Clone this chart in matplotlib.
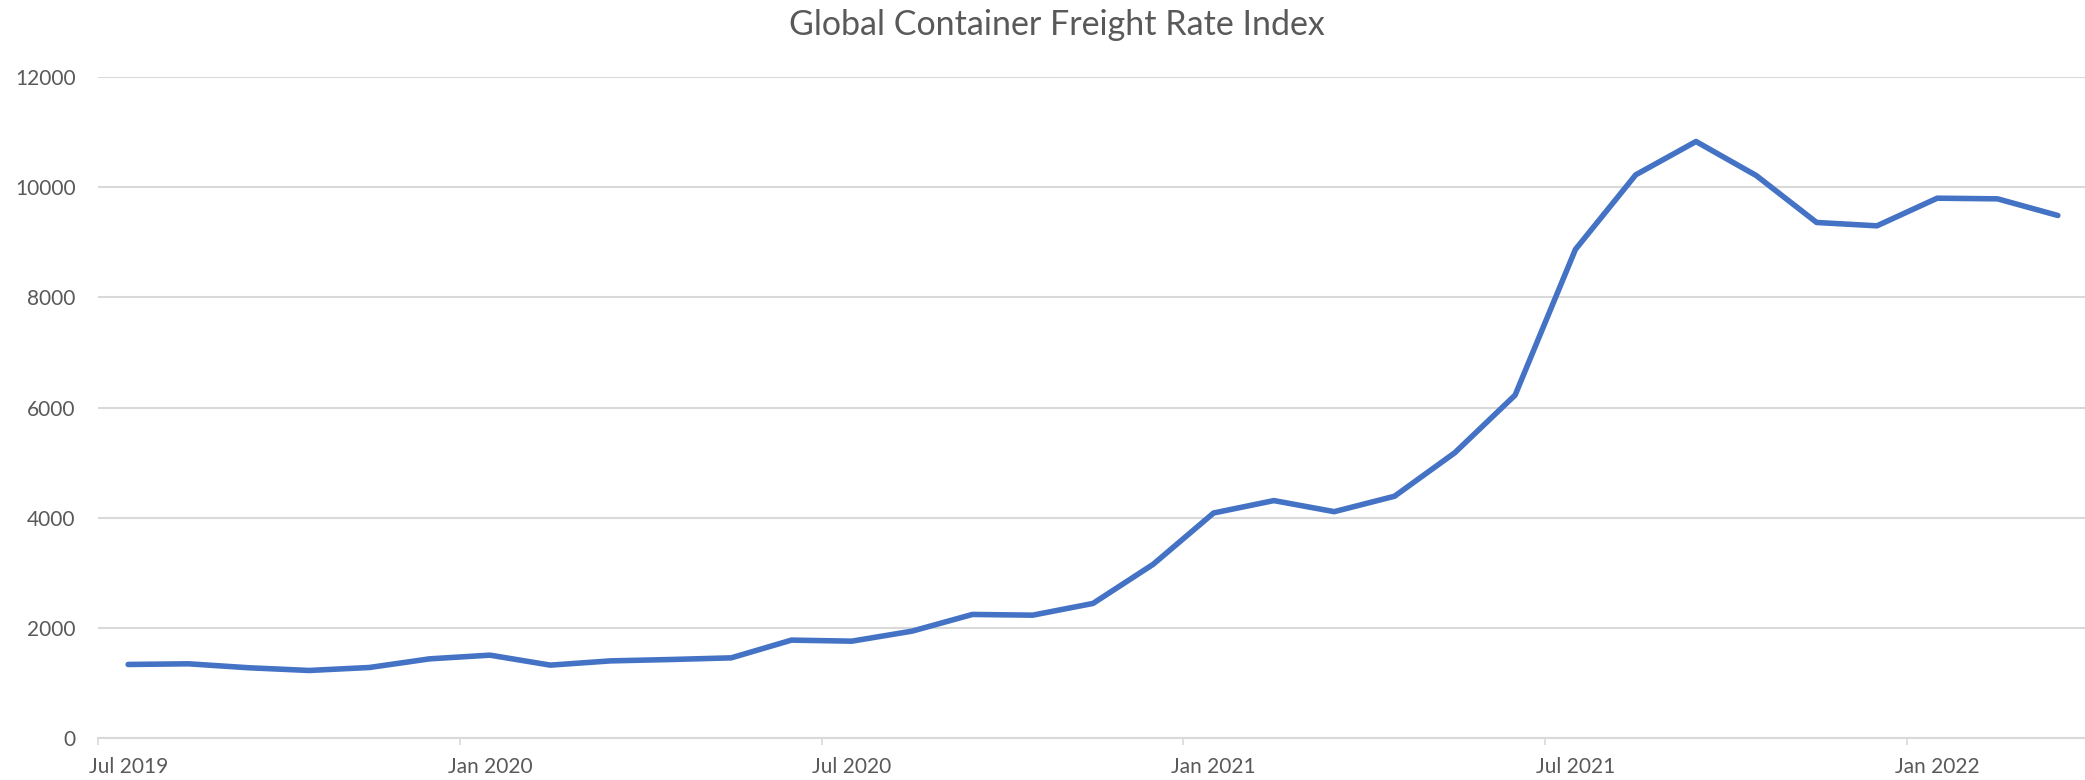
import matplotlib
matplotlib.use("Agg")
import matplotlib.pyplot as plt
import numpy as np

plt.rcParams['font.family'] = ['Lato', 'DejaVu Sans']

# Monthly data, Jul 2019 .. Mar 2022
months = ["Jul 2019", "Aug 2019", "Sep 2019", "Oct 2019", "Nov 2019", "Dec 2019",
          "Jan 2020", "Feb 2020", "Mar 2020", "Apr 2020", "May 2020", "Jun 2020",
          "Jul 2020", "Aug 2020", "Sep 2020", "Oct 2020", "Nov 2020", "Dec 2020",
          "Jan 2021", "Feb 2021", "Mar 2021", "Apr 2021", "May 2021", "Jun 2021",
          "Jul 2021", "Aug 2021", "Sep 2021", "Oct 2021", "Nov 2021", "Dec 2021",
          "Jan 2022", "Feb 2022", "Mar 2022"]
values = [1335, 1347, 1275, 1226, 1280, 1437, 1504, 1323, 1400, 1425, 1455,
          1777, 1758, 1940, 2243, 2230, 2443, 3155, 4085, 4310, 4109, 4389,
          5179, 6225, 8870, 10224, 10829, 10210, 9359, 9298, 9800, 9788, 9486]
label_months = ["Jul 2019", "Jan 2020", "Jul 2020", "Jan 2021", "Jul 2021", "Jan 2022"]
y_ticks = [0, 2000, 4000, 6000, 8000, 10000, 12000]
title = "Global Container Freight Rate Index"

W, H, DPI = 2085, 780, 100
fig = plt.figure(figsize=(W / DPI, H / DPI), dpi=DPI)
left, right, bottom, top = 98, 2088, 738, 77
ax = fig.add_axes([left / W, 1 - bottom / H, (right - left) / W, (bottom - top) / H])

x = np.arange(len(values))
ax.plot(x, values, color="#4472C4", linewidth=4.0, solid_joinstyle="round",
        solid_capstyle="round", zorder=3, clip_on=False)

ax.set_xlim(-0.5, len(values) - 0.5)
ax.set_ylim(0, 12000)

grid_c = "#D9D9D9"
ax.set_yticks(y_ticks)
ax.set_yticklabels([str(v) for v in y_ticks])
ax.yaxis.grid(True, color=grid_c, linewidth=1.5)
ax.set_axisbelow(True)
ax.tick_params(axis="y", length=0, pad=16, labelsize=15, labelcolor="#595959")

idx = [months.index(m) for m in label_months]
ax.set_xticks([i - 0.5 for i in idx])
ax.set_xticklabels([])
ax.set_xticks(idx, minor=True)
ax.set_xticklabels(label_months, minor=True)
ax.tick_params(axis="x", which="major", length=5, width=1.2, color=grid_c)
ax.tick_params(axis="x", which="minor", length=0, pad=14, labelsize=15, labelcolor="#595959")

for s in ["top", "right", "left"]:
    ax.spines[s].set_visible(False)
ax.spines["bottom"].set_color(grid_c)
ax.spines["bottom"].set_linewidth(1.5)

fig.text(1057 / W, 1 - 25 / H, title, ha="center", va="center", fontsize=24.5, color="#595959")

fig.savefig("out.png", dpi=DPI, facecolor="white")
